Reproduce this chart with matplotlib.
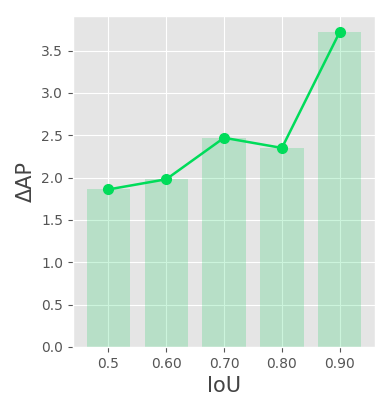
import matplotlib
matplotlib.use("Agg")
import matplotlib.pyplot as plt

plt.style.use("ggplot")

iou_labels = ["0.5", "0.60", "0.70", "0.80", "0.90"]
delta_ap = [1.86, 1.98, 2.47, 2.35, 3.72]

x = list(range(len(iou_labels)))

fig, ax = plt.subplots(figsize=(3.9, 4.15), dpi=100)
ax.bar(x, delta_ap, width=0.75, color="#00c850", alpha=0.2)
ax.plot(x, delta_ap, color="#00dc5a", marker="o", markersize=7, linewidth=1.8)

ax.set_xticks(x)
ax.set_xticklabels(iou_labels)
ax.set_xlabel("IoU", fontsize=15, color="#444444")
ax.set_ylabel("ΔAP", fontsize=15, color="#444444")
ax.tick_params(labelsize=10)

fig.subplots_adjust(left=0.187, right=0.962, top=0.961, bottom=0.164)
fig.savefig("out.png")
